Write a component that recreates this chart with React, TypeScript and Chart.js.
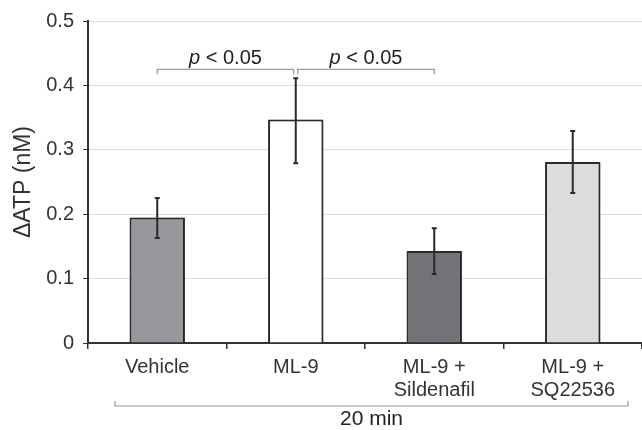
import React, { useEffect, useRef } from "react";
import { Chart, registerables } from "chart.js";

Chart.register(...registerables);

const categories: (string | string[])[] = ["Vehicle", "ML-9", ["ML-9 +", "Sildenafil"], ["ML-9 +", "SQ22536"]];
const meanValues = [0.195, 0.347, 0.143, 0.281];
const errLow = [0.163, 0.279, 0.107, 0.233];
const errHigh = [0.225, 0.411, 0.178, 0.329];
const barColors = ["#98989c", "#ffffff", "#727377", "#dcdcde"];
const yTicks = [0, 0.1, 0.2, 0.3, 0.4, 0.5];
const sigPairs: [number, number][] = [[0, 1], [1, 2]];
const sigLabel = ["p", " < 0.05"];
const sigLevel = 0.425;
const groupLabel = "20 min";
const yTitle = "ΔATP (nM)";

const FONT = "'Liberation Sans', Arial, Helvetica, sans-serif";

const decorPlugin = {
  id: "decor",
  beforeDatasetsDraw(chart: any) {
    const ctx = chart.ctx;
    ctx.save();
    ctx.shadowColor = "rgba(0,0,0,0.4)";
    ctx.shadowBlur = 5;
    ctx.shadowOffsetX = 1;
    ctx.shadowOffsetY = 1;
  },
  afterDatasetsDraw(chart: any) {
    const ctx = chart.ctx;
    ctx.restore();
    const xs = chart.scales.x;
    const ys = chart.scales.y;
    // error bars
    ctx.save();
    ctx.strokeStyle = "#2a2a2a";
    ctx.lineWidth = 2;
    for (let i = 0; i < meanValues.length; i++) {
      const x = xs.getPixelForValue(i);
      const yl = ys.getPixelForValue(errLow[i]);
      const yh = ys.getPixelForValue(errHigh[i]);
      ctx.beginPath();
      ctx.moveTo(x, yl);
      ctx.lineTo(x, yh);
      ctx.moveTo(x - 2.5, yl);
      ctx.lineTo(x + 2.5, yl);
      ctx.moveTo(x - 2.5, yh);
      ctx.lineTo(x + 2.5, yh);
      ctx.stroke();
    }
    ctx.restore();

    // significance brackets
    ctx.save();
    const by = ys.getPixelForValue(sigLevel);
    sigPairs.forEach(([a, b], k) => {
      let x1 = xs.getPixelForValue(a);
      let x2 = xs.getPixelForValue(b);
      if (k === 0) x2 -= 2;
      if (k === 1) x1 += 2;
      ctx.strokeStyle = "#9a9a9a";
      ctx.lineWidth = 1.3;
      ctx.beginPath();
      ctx.moveTo(x1, by + 5);
      ctx.lineTo(x1, by);
      ctx.lineTo(x2, by);
      ctx.lineTo(x2, by + 5);
      ctx.stroke();
      ctx.fillStyle = "#222";
      ctx.textBaseline = "alphabetic";
      ctx.textAlign = "left";
      const f1 = `italic 20px ${FONT}`;
      const f2 = `20px ${FONT}`;
      ctx.font = f1;
      const w1 = ctx.measureText(sigLabel[0]).width;
      ctx.font = f2;
      const w2 = ctx.measureText(sigLabel[1]).width;
      const cx = (x1 + x2) / 2;
      const sx = cx - (w1 + w2) / 2;
      ctx.font = f1;
      ctx.fillText(sigLabel[0], sx, by - 5);
      ctx.font = f2;
      ctx.fillText(sigLabel[1], sx + w1, by - 5);
    });
    ctx.restore();

    // group bracket under x labels
    ctx.save();
    const ly = 406;
    const lx1 = xs.left + 27;
    const lx2 = xs.right - 14;
    ctx.strokeStyle = "#9a9a9a";
    ctx.lineWidth = 1.2;
    ctx.beginPath();
    ctx.moveTo(lx1, ly - 5);
    ctx.lineTo(lx1, ly);
    ctx.lineTo(lx2, ly);
    ctx.lineTo(lx2, ly - 5);
    ctx.stroke();
    ctx.fillStyle = "#222";
    ctx.font = `21px ${FONT}`;
    ctx.textAlign = "center";
    ctx.textBaseline = "middle";
    ctx.fillText(groupLabel, (lx1 + lx2) / 2, 419);
    ctx.restore();
  },
};

export default function App() {
  const ref = useRef<HTMLCanvasElement>(null);
  useEffect(() => {
    document.body.style.margin = "0";
    const chart = new Chart(ref.current!, {
      type: "bar",
      data: {
        labels: categories as any,
        datasets: [
          {
            data: meanValues,
            backgroundColor: barColors,
            borderColor: "#2e2e2e",
            borderWidth: 2,
            barPercentage: 0.4,
            categoryPercentage: 1,
          },
        ],
      },
      options: {
        responsive: false,
        animation: false,
        layout: { padding: { top: 20, left: 0, right: 0, bottom: 0 } },
        plugins: { legend: { display: false }, tooltip: { enabled: false } },
        scales: {
          x: {
            type: "category",
            offset: true,
            grid: {
              offset: true,
              drawOnChartArea: false,
              drawTicks: true,
              tickLength: 6,
              color: "#333",
              lineWidth: 1.5,
            },
            border: { color: "#333", width: 2 },
            ticks: {
              color: "#333",
              font: { size: 20, family: FONT, lineHeight: 1.15 },
              padding: 7,
              maxRotation: 0,
              autoSkip: false,
            },
            afterFit: (s: any) => {
              s.height = 87;
            },
          },
          y: {
            min: 0,
            max: 0.5,
            afterBuildTicks: (s: any) => {
              s.ticks = yTicks.map((v) => ({ value: v }));
            },
            ticks: {
              color: "#333",
              font: { size: 20, family: FONT },
              padding: 9,
              callback: (v: any) => (Number(v) === 0 ? "0" : Number(v).toFixed(1)),
            },
            grid: {
              color: "#dcdcdc",
              tickColor: "#333",
              tickLength: 5,
              lineWidth: 1,
            },
            border: { color: "#333", width: 2 },
            title: {
              display: true,
              text: yTitle,
              color: "#333",
              font: { size: 23, family: FONT },
              padding: { top: 10, bottom: 0 },
            },
            afterFit: (s: any) => {
              s.width = 88;
            },
          },
        },
      },
      plugins: [decorPlugin],
    });
    return () => chart.destroy();
  }, []);
  return (
    <div style={{ width: 642, height: 430, background: "#fff" }}>
      <canvas ref={ref} width={642} height={430} />
    </div>
  );
}
